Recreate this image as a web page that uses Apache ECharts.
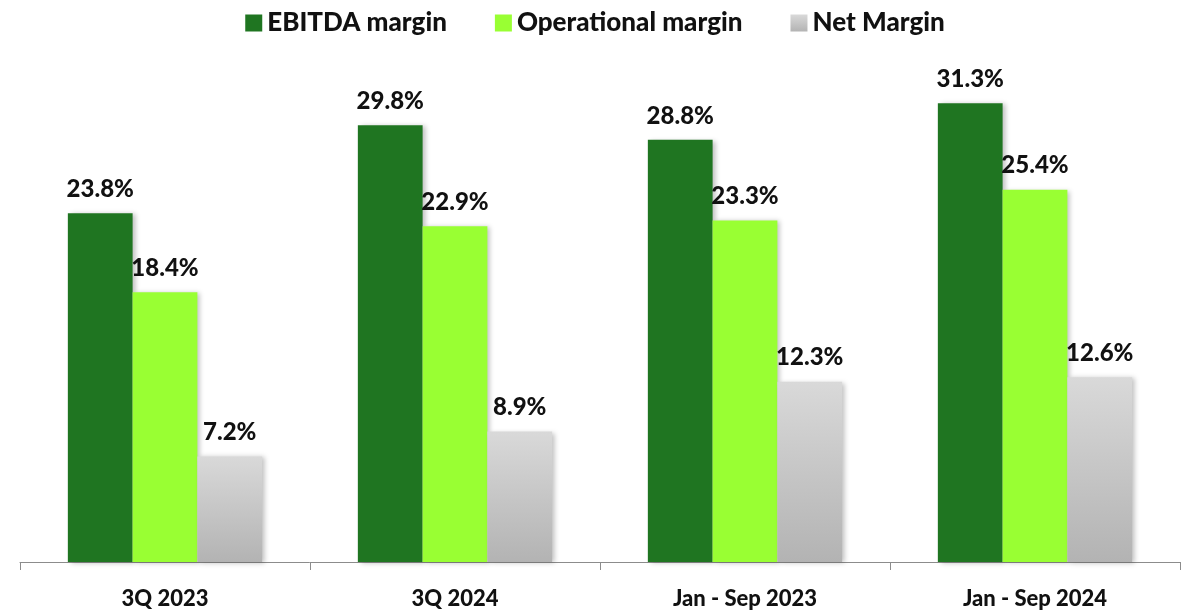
<!DOCTYPE html>
<html>
<head>
<meta charset="utf-8">
<script src="https://cdn.jsdelivr.net/npm/echarts@6/dist/echarts.min.js"></script>
<style>
  html, body { margin: 0; padding: 0; background: #fff; }
  #chart { width: 1190px; height: 612px; }
</style>
</head>
<body>
<div id="chart"></div>
<script>
var categories = ['3Q 2023', '3Q 2024', 'Jan - Sep 2023', 'Jan - Sep 2024'];
var ebitda = [23.8, 29.8, 28.8, 31.3];
var operational = [18.4, 22.9, 23.3, 25.4];
var net = [7.2, 8.9, 12.3, 12.6];

var chart = echarts.init(document.getElementById('chart'), null, {renderer: 'canvas'});

var font = 'Lato, "Open Sans", sans-serif';

function barLabel() {
    return {
        show: true,
        position: 'top',
        distance: 12,
        formatter: function (p) { return p.value.toFixed(1) + '%'; },
        color: '#111',
        fontFamily: font,
        fontWeight: 900,
        fontSize: 24
    };
}

var shadow = {
    shadowBlur: 5,
    shadowOffsetX: 3,
    shadowOffsetY: 1,
    shadowColor: 'rgba(0,0,0,0.25)'
};

chart.setOption({
    animation: false,
    legend: {
        top: 5,
        left: 'center',
        itemWidth: 17,
        itemHeight: 17,
        itemGap: 48,
        icon: 'rect',
        textStyle: {fontFamily: font, fontWeight: 900, fontSize: 26, color: '#111'},
        data: ['EBITDA margin', 'Operational margin', 'Net Margin']
    },
    grid: {left: 20, right: 10, top: 49, bottom: 50},
    xAxis: {
        type: 'category',
        data: categories,
        axisLine: {lineStyle: {color: '#8c8c8c', width: 1}},
        axisTick: {show: true, length: 8, lineStyle: {color: '#8c8c8c'}},
        axisLabel: {
            margin: 26,
            color: '#111',
            fontFamily: font,
            fontWeight: 900,
            fontSize: 22
        }
    },
    yAxis: {
        type: 'value',
        min: 0,
        max: 35,
        show: false,
        splitLine: {show: false}
    },
    series: [
        {
            name: 'EBITDA margin',
            type: 'bar',
            data: ebitda,
            barGap: '0%',
            barCategoryGap: '33%',
            itemStyle: Object.assign({color: '#1f7521'}, shadow),
            label: barLabel()
        },
        {
            name: 'Operational margin',
            type: 'bar',
            data: operational,
            itemStyle: Object.assign({color: '#99ff33'}, shadow),
            label: barLabel()
        },
        {
            name: 'Net Margin',
            type: 'bar',
            data: net,
            itemStyle: Object.assign({
                color: new echarts.graphic.LinearGradient(0, 0, 0, 1, [
                    {offset: 0, color: '#d9d9d9'},
                    {offset: 1, color: '#b3b3b3'}
                ])
            }, shadow),
            label: barLabel()
        }
    ]
});
</script>
</body>
</html>
